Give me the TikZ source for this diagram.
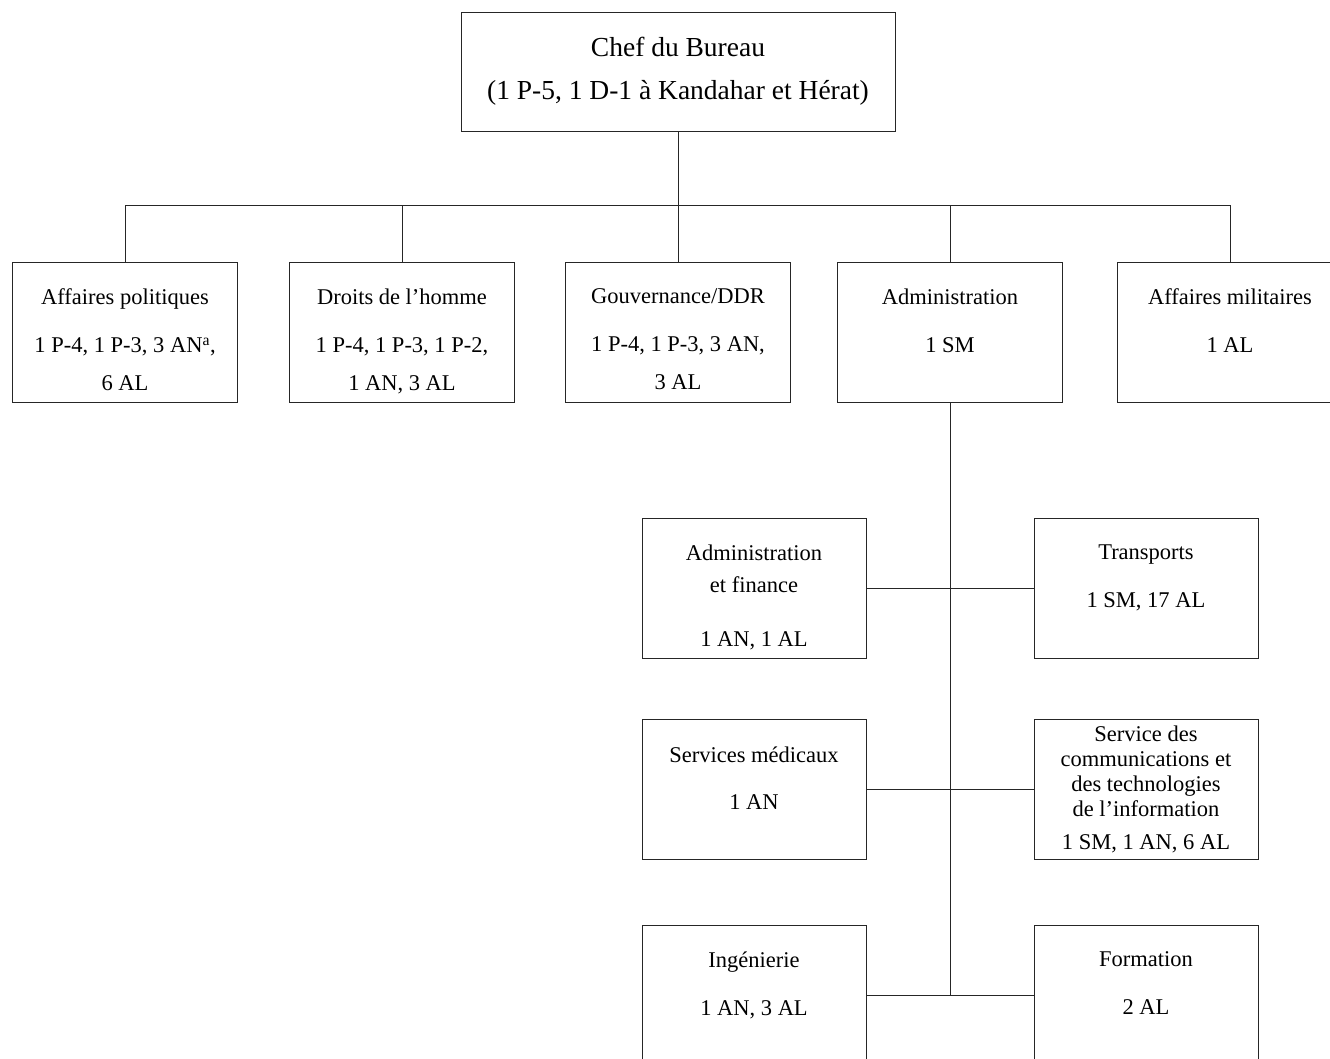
\documentclass[tikz,border=0pt]{standalone}
\usepackage{fontspec}
\setmainfont{Liberation Serif}
\usetikzlibrary{positioning}

\begin{document}
\begin{tikzpicture}[x=1pt,y=1pt,
  unit/.style={draw=black!85,line width=.9pt,minimum width=225pt,minimum height=140pt,inner sep=0pt},
  lbl/.style={anchor=north,align=center,inner sep=0pt,font=\fontsize{22.5}{38}\selectfont},
  link/.style={draw=black!85,line width=.9pt}]
\useasboundingbox (0,0) rectangle (1330,-1059);
% chef
\node[unit,minimum width=434pt,minimum height=119pt,align=center,font=\fontsize{27.5}{43}\selectfont] (chef) at (678,-71.5) {Chef du Bureau\\(1 P-5, 1 D-1 à Kandahar et Hérat)};
% first row
\node[unit] (pol) at (125,-332) {};
\node[unit] (dro) at (402,-332) {};
\node[unit] (gov) at (678,-332) {};
\node[unit] (adm) at (950,-332) {};
\node[unit] (mil) at (1230,-332) {};
\node[lbl,below=27pt of pol.north] (pol-t) {Affaires politiques\\[10pt]1 P-4, 1 P-3, 3 AN\textsuperscript{a},\\6 AL};
\node[lbl,below=27pt of dro.north] (dro-t) {Droits de l'homme\\[10pt]1 P-4, 1 P-3, 1 P-2,\\1 AN, 3 AL};
\node[lbl,below=27pt of gov.north] (gov-t) {Gouvernance/DDR\\[10pt]1 P-4, 1 P-3, 3 AN,\\3 AL};
\node[lbl,below=27pt of adm.north] (adm-t) {Administration\\[10pt]1 SM};
\node[lbl,below=27pt of mil.north] (mil-t) {Affaires militaires\\[10pt]1 AL};
% sections under administration
\node[unit,minimum width=224pt] (fin) at (754,-588) {};
\node[unit,minimum width=224pt] (tra) at (1146,-588) {};
\node[unit,minimum width=224pt] (med) at (754,-789) {};
\node[unit,minimum width=224pt] (com) at (1146,-789) {};
\node[unit,minimum width=224pt] (ing) at (754,-995) {};
\node[unit,minimum width=224pt] (form) at (1146,-995) {};
\node[lbl,below=27pt of fin.north] (fin-t) {Administration\\[-6pt]et finance\\[16pt]1 AN, 1 AL};
\node[lbl,below=27pt of tra.north] (tra-t) {Transports\\[10pt]1 SM, 17 AL};
\node[lbl,below=28pt of med.north] (med-t) {Services médicaux\\[9pt]1 AN};
\node[lbl,below=7pt of com.north,font=\fontsize{22.5}{25}\selectfont] (com-t) {Service des\\communications et\\des technologies\\de l'information\\[8pt]1 SM, 1 AN, 6 AL};
\node[lbl,below=27pt of ing.north] (ing-t) {Ingénierie\\[10pt]1 AN, 3 AL};
\node[lbl,below=27pt of form.north] (form-t) {Formation\\[10pt]2 AL};
% links
\coordinate (bus) at (0,-205);
\draw[link] (chef.south) -- (chef.south |- bus);
\draw[link] (pol.north) |- (bus -| mil.north) -- (mil.north);
\foreach \n in {dro,gov,adm} \draw[link] (\n.north) -- (\n.north |- bus);
\draw[link] (adm.south) -- (adm.south |- ing.east);
\draw[link] (fin.east) -- (tra.west);
\draw[link] (med.east) -- (com.west);
\draw[link] (ing.east) -- (form.west);
\end{tikzpicture}
\end{document}
